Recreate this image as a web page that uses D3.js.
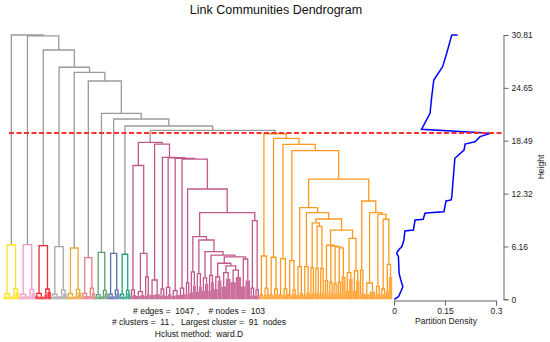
<!DOCTYPE html>
<html>
<head>
<meta charset="utf-8">
<script src="https://cdn.jsdelivr.net/npm/d3@7"></script>
<style>
  body { margin: 0; background: #fff; }
  svg { display: block; font-family: "Liberation Sans", Arial, sans-serif; }
</style>
</head>
<body>
<svg id="chart" width="550" height="342"></svg>
<script>
// subtree spec: [height, left, right] for a merge, [leafCount, height] for a collapsed bundle of leaves
const yellowTree = [6.33, [0.65, [8, 0.35], [16, 0.3]], [1.2, [8, 0.45], [10, 0.8]]];
const pinkTree = [6.37, [0.6, [9, 0.3], [16, 0.35]], [1.15, [8, 0.4], [10, 0.75]]];
const redTree = [6.25, [0.7, [8, 0.4], [16, 0.3]], [1.2, [8, 0.5], [10, 0.85]]];
const grayTree = [6.13, [0.6, [8, 0.3], [16, 0.35]], [1.1, [8, 0.4], [10, 0.7]]];
const goldTree = [5.98, [0.65, [8, 0.35], [14, 0.3]], [1.15, [7, 0.45], [10, 0.8]]];
const salmonTree = [4.85, [0.7, [7, 0.35], [13, 0.4]], [1.3, [7, 0.4], [9, 0.75]]];
const greenTree = [5.48, [0.55, [7, 0.3], [12, 0.35]], [1.05, [6, 0.4], [9, 0.7]]];
const blueTree = [5.36, [0.6, [6, 0.3], [11, 0.35]], [1.1, [6, 0.4], [8, 0.7]]];
const tealTree = [5.25, [0.6, [6, 0.35], [10, 0.3]], [1.05, [5, 0.4], [8, 0.7]]];

// magenta cluster, built bottom-up
const magentaDeep = [4.95,
  [4.2, [2.6, [10, 1.2], [10, 2.2]], [3.9, [3.1, [12, 1.5], [12, 2.4]], [3.4, [14, 2.0], [14, 2.6]]]],
  [4.7, [12, 1.5], [12, 2.2]]];
const magentaStairs = [7.3, [3.2, [8, 0.8], [8, 1.6]],
  [6.91, [3.0, [8, 0.9], [8, 1.5]],
    [5.55, [2.5, [8, 1.0], [9, 1.8]],
      [5.16, [2.8, [7, 1.0], [8, 2.0]], magentaDeep]]]];
const magentaBig = [12.86, [1.9, [6, 0.5], [6, 0.7]],
  [10.1, magentaStairs, [9.16, [1.3, [6, 0.4], [7, 0.5]], [1.1, [6, 0.4], [6, 0.5]]]]];
const magentaTree = [18.3,
  [15.6, [1.1, [6, 0.4], [9, 0.5]], [5.36, [0.9, [12, 0.4], [10, 0.5]], [2.6, [7, 0.4], [7, 0.6]]]],
  [18.1, [2.25, [13, 0.5], [14, 0.6]],
    [16.55, [1.2, [7, 0.4], [7, 0.5]],
      [16.5, [1.4, [8, 0.4], [9, 0.6]],
        [16.42, [1.0, [10, 0.4], [10, 0.5]],
          [16.35, [1.3, [8, 0.5], [9, 0.6]], magentaBig]]]]]];

// orange cluster, built bottom-up
const orangeComb = [6.3, [2.2, [5, 0.5], [6, 0.9]],
  [6.2, [2.0, [6, 0.5], [6, 0.8]],
    [6.1, [1.8, [5, 0.5], [6, 0.7]],
      [6.0, [2.0, [5, 0.5], [6, 0.8]], [2.6, [5, 2.2], [6, 2.6]]]]]];
const orangeMid = [10.68, [3.8, [9, 0.5], [9, 0.8]],
  [10.1, [3.8, [9, 0.5], [9, 0.8]],
    [9.36,
      [8.9, [3.7, [6, 0.5], [7, 0.8]], [8.5, [3.6, [6, 0.5], [7, 0.8]], [3.6, [6, 0.5], [7, 0.8]]]],
      [8.07, orangeComb, [7.1, [3.1, [9, 1.0], [10, 2.4]], [3.33, [9, 1.0], [9, 2.2]]]]]]];
const orangeRight = [11.46, [3.4, [6, 0.6], [6, 0.8]],
  [10.1, [1.9, [15, 0.6], [15, 0.9]],
    [9.9, [1.5, [7, 0.5], [7, 0.7]],
      [9.33, [1.2, [7, 0.5], [7, 0.6]], [4.08, [8, 1.0], [9, 2.6]]]]]];
const orangeTree = [19.3, [5.05, [0.5, [5, 0.3], [6, 0.4]], [1.3, [8, 0.5], [7, 0.6]]],
  [18.77, [4.9, [0.5, [5, 0.3], [6, 0.4]], [1.2, [7, 0.5], [7, 0.6]]],
    [18.07, [4.73, [0.5, [5, 0.3], [6, 0.4]], [1.2, [7, 0.5], [7, 0.6]]],
      [17.32, [4.5, [0.5, [4, 0.3], [6, 0.4]], [1.1, [6, 0.5], [6, 0.6]]],
        [14.02, orangeMid, orangeRight]]]]];

const clusterTrees = [yellowTree, pinkTree, redTree, grayTree, goldTree, salmonTree,
  greenTree, blueTree, tealTree, magentaTree, orangeTree];
const clusterColors = ["#ffe31c", "#f59ac4", "#f5232b", "#a9a9a9", "#e6a93a", "#e57e80",
  "#5f9d75", "#5b6eab", "#22a080", "#c2578c", "#ff9a1f"];
// heights of the merges above the cut, from the root down
const mergeHeights = [30.81, 30.7, 29.06, 27.05, 26.46, 25.45, 21.68, 21.02, 20.2, 19.7];
const cutHeight = 19.39;

const densityHeights = [30.81, 30.81, 28.68, 27.12, 25.56, 23.62, 21.68, 19.82, 19.35, 18.96, 18.37,
  18.1, 17.4, 16.44, 11.96, 11.58, 11.46, 10.21, 10.1, 10.03, 9.33, 9.24, 8.08, 7.96, 6.91,
  6.13, 5.95, 5.55, 5.36, 4.97, 3.03, 2.25, 1.47, 0.89, 0.3, 0];
const densityValues = [0.187, 0.17, 0.155, 0.143, 0.117, 0.111, 0.106, 0.081, 0.284, 0.253, 0.238,
  0.209, 0.206, 0.179, 0.17, 0.168, 0.153, 0.147, 0.104, 0.091, 0.086, 0.062, 0.057, 0.032, 0.029,
  0.023, 0.018, 0.01, 0.008, 0.013, 0.015, 0.02, 0.026, 0.02, 0.013, 0.001];

const heightTicks = [0, 6.16, 12.32, 18.49, 24.65, 30.81];
const densityTicks = [0, 0.15, 0.3];
const infoLines = ["# edges =  1047 ,    # nodes =  103",
  "# clusters =  11 ,   Largest cluster =  91  nodes",
  "Hclust method:  ward.D"];

const svg = d3.select("#chart");
const GRAY = "#9a9a9a";

// assemble the full tree: clusters chained under the gray merges
let spec = [mergeHeights[9], magentaTree, orangeTree];
for (let i = 8; i >= 0; i--) spec = [mergeHeights[i], clusterTrees[i], spec];

const root = d3.hierarchy(spec, s => s.length === 3 ? [s[1], s[2]] : null);
let cursor = 0;
root.leaves().forEach(l => {
  l.start = cursor;
  l.n = l.data[0];
  l.h = l.data[1];
  cursor += l.n;
  l.x = l.start + (l.n - 1) / 2;
});
const nLeaves = cursor;
root.eachAfter(d => {
  if (d.children) {
    d.h = d.data[0];
    d.x = (d.children[0].x + d.children[1].x) / 2;
  }
});
root.each(d => {
  const k = clusterTrees.indexOf(d.data);
  if (k >= 0) d.color = clusterColors[k];
  else d.color = d.parent ? d.parent.color : GRAY;
});

const x = d3.scaleLinear().domain([0, nLeaves - 1]).range([3.5, 392]);
const y = d3.scaleLinear().domain([0, 30.81]).range([299.3, 35]);
const xd = d3.scaleLinear().domain([0, 0.3]).range([394, 496]);

// collapsed leaf bundles
svg.append("g").selectAll("rect")
  .data(root.leaves())
  .join("rect")
  .attr("x", d => x(d.start - 0.5))
  .attr("width", d => x(d.n) - x(0))
  .attr("y", d => y(d.h))
  .attr("height", d => y(0) - y(d.h))
  .attr("fill", d => d.color)
  .attr("opacity", 0.85);

// merge links
svg.append("g").selectAll("path")
  .data(root.descendants().filter(d => d.children))
  .join("path")
  .attr("fill", "none")
  .attr("stroke", d => d.color)
  .attr("stroke-width", 1.3)
  .attr("d", d => {
    const [a, b] = d.children;
    return `M${x(a.x)},${y(a.h)}V${y(d.h)}H${x(b.x)}V${y(b.h)}`;
  });

// partition density curve
svg.append("path")
  .datum(densityHeights.map((h, i) => [densityValues[i], h]))
  .attr("fill", "none")
  .attr("stroke", "#0000ff")
  .attr("stroke-width", 1.5)
  .attr("d", d3.line().x(d => xd(d[0])).y(d => y(d[1])));

// cut line
svg.append("line")
  .attr("x1", 9).attr("x2", 503)
  .attr("y1", y(cutHeight)).attr("y2", y(cutHeight))
  .attr("stroke", "#ff3030")
  .attr("stroke-width", 2)
  .attr("stroke-dasharray", "5,2.5");

// axes
const axisH = svg.append("g")
  .attr("transform", "translate(503.5,0)")
  .call(d3.axisRight(y).tickValues(heightTicks).tickFormat(d => d).tickSize(5).tickPadding(3));
const axisD = svg.append("g")
  .attr("transform", "translate(0,300.5)")
  .call(d3.axisBottom(xd).tickValues(densityTicks).tickFormat(d => d).tickSize(5).tickPadding(2));
[axisH, axisD].forEach(g => {
  g.selectAll("path, line").attr("stroke", "#666");
  g.selectAll("text").attr("font-size", 8.5).attr("fill", "#222")
    .attr("font-family", "Liberation Sans, Arial, sans-serif");
});

svg.append("text")
  .attr("x", 446).attr("y", 324)
  .attr("text-anchor", "middle").attr("font-size", 8.5).attr("fill", "#222")
  .text("Partition Density");
svg.append("text")
  .attr("transform", "translate(544,167) rotate(-90)")
  .attr("text-anchor", "middle").attr("font-size", 8.5).attr("fill", "#222")
  .text("Height");

svg.append("text")
  .attr("x", 276).attr("y", 14)
  .attr("text-anchor", "middle").attr("font-size", 12.5).attr("fill", "#111")
  .text("Link Communities Dendrogram");

svg.append("g").selectAll("text")
  .data(infoLines)
  .join("text")
  .attr("x", 199)
  .attr("y", (d, i) => 313.5 + i * 11.5)
  .attr("text-anchor", "middle").attr("font-size", 8.5).attr("fill", "#111")
  .style("white-space", "pre")
  .text(d => d);
</script>
</body>
</html>
